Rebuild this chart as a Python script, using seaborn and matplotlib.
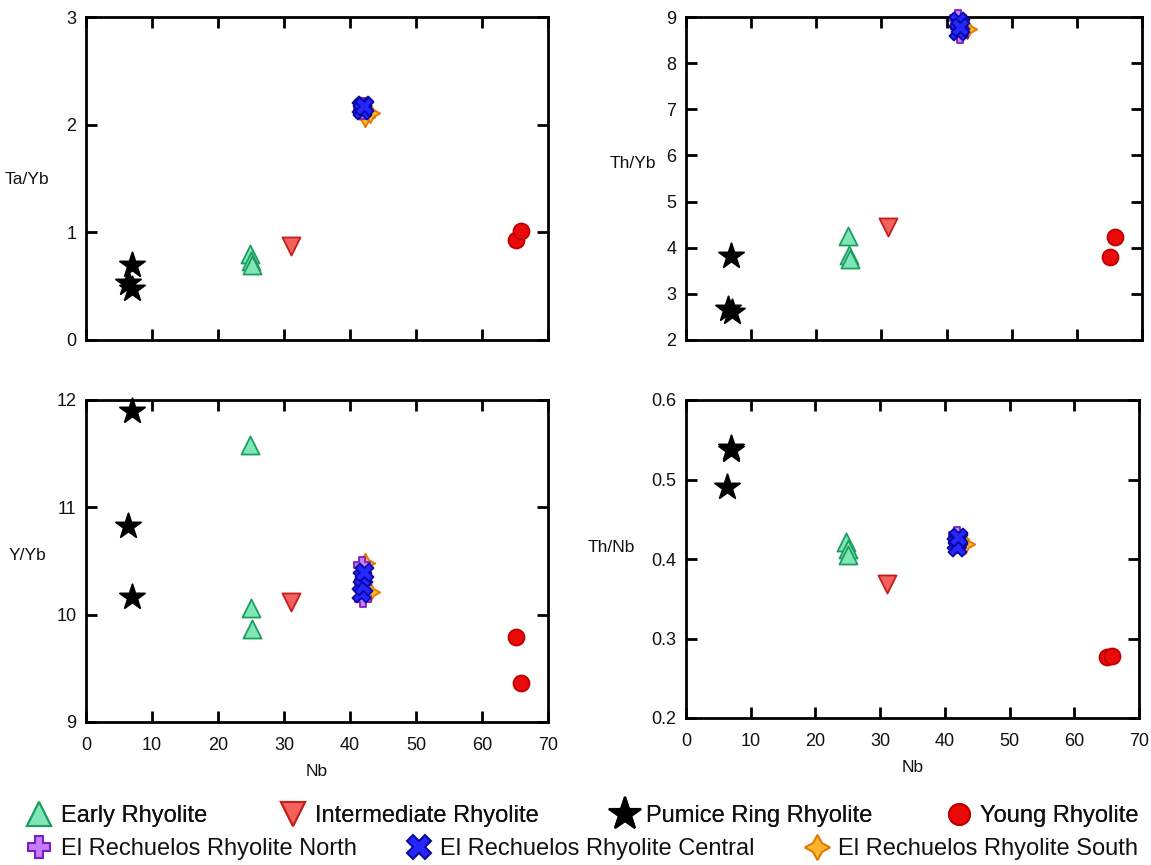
import matplotlib
matplotlib.use("Agg")
import matplotlib.pyplot as plt
from matplotlib.lines import Line2D
from matplotlib.ticker import FixedLocator, NullFormatter
import seaborn as sns
import pandas as pd

sns.set_theme(style="white")
plt.rcParams["font.family"] = ["Liberation Sans", "DejaVu Sans"]

# Rhyolite units
units = ["Early Rhyolite", "Intermediate Rhyolite", "Pumice Ring Rhyolite",
         "Young Rhyolite", "El Rechuelos Rhyolite North",
         "El Rechuelos Rhyolite Central", "El Rechuelos Rhyolite South"]

# Nb (ppm) per sample, one list per unit
nb_early = [24.8, 25.0, 25.1]
nb_inter = [31.0]
nb_pumice = [6.4, 6.9, 7.0]
nb_young = [65.1, 65.9]
nb_north = [41.8, 42.0, 41.9]
nb_central = [41.7, 42.0, 41.8, 42.1]
nb_south = [42.2, 43.1]

# Ta/Yb
tayb_early = [0.80, 0.73, 0.70]
tayb_inter = [0.87]
tayb_pumice = [0.53, 0.70, 0.47]
tayb_young = [0.93, 1.01]
tayb_north = [2.15, 2.17, 2.13]
tayb_central = [2.16, 2.18, 2.14, 2.17]
tayb_south = [2.07, 2.11]

# Th/Yb
thyb_early = [4.25, 3.84, 3.75]
thyb_inter = [4.45]
thyb_pumice = [2.68, 3.82, 2.60]
thyb_young = [3.80, 4.24]
thyb_north = [8.98, 8.62, 8.80]
thyb_central = [8.70, 8.85, 8.92, 8.78]
thyb_south = [8.82, 8.74]

# Y/Yb
yyb_early = [11.58, 10.06, 9.87]
yyb_inter = [10.12]
yyb_pumice = [10.83, 11.90, 10.16]
yyb_young = [9.79, 9.36]
yyb_north = [10.46, 10.15, 10.30]
yyb_central = [10.20, 10.27, 10.35, 10.40]
yyb_south = [10.48, 10.21]

# Th/Nb
thnb_early = [0.421, 0.412, 0.405]
thnb_inter = [0.369]
thnb_pumice = [0.491, 0.537, 0.540]
thnb_young = [0.277, 0.278]
thnb_north = [0.430, 0.418, 0.424]
thnb_central = [0.420, 0.425, 0.415, 0.428]
thnb_south = [0.425, 0.419]

nb_all = [nb_early, nb_inter, nb_pumice, nb_young, nb_north, nb_central, nb_south]
ratios = {
    "Ta/Yb": [tayb_early, tayb_inter, tayb_pumice, tayb_young, tayb_north, tayb_central, tayb_south],
    "Th/Yb": [thyb_early, thyb_inter, thyb_pumice, thyb_young, thyb_north, thyb_central, thyb_south],
    "Y/Yb": [yyb_early, yyb_inter, yyb_pumice, yyb_young, yyb_north, yyb_central, yyb_south],
    "Th/Nb": [thnb_early, thnb_inter, thnb_pumice, thnb_young, thnb_north, thnb_central, thnb_south],
}

rows = []
for i, unit in enumerate(units):
    for k, nb in enumerate(nb_all[i]):
        row = {"unit": unit, "Nb": nb}
        for key, vals in ratios.items():
            row[key] = vals[i][k]
        rows.append(row)
df = pd.DataFrame(rows)

# marker styling per unit: (marker, size in points, face, edge)
style = {
    "Early Rhyolite": ("^", 13, "#7fe6b8", "#1c9f5e"),
    "Intermediate Rhyolite": ("v", 13, "#f4605c", "#c21f1f"),
    "Pumice Ring Rhyolite": ("*", 19, "#000000", "#000000"),
    "Young Rhyolite": ("o", 11.5, "#ea0a0a", "#c00000"),
    "El Rechuelos Rhyolite North": ("P", 12, "#c67cff", "#7b1fc2"),
    "El Rechuelos Rhyolite Central": ("X", 13, "#2626ff", "#0a0aa0"),
    "El Rechuelos Rhyolite South": ((4, 1, 0), 14, "#ffb42e", "#e07a00"),
}
draw_order = ["El Rechuelos Rhyolite South", "El Rechuelos Rhyolite North",
              "El Rechuelos Rhyolite Central", "Early Rhyolite",
              "Intermediate Rhyolite", "Pumice Ring Rhyolite", "Young Rhyolite"]

W, H = 1151, 865
fig = plt.figure(figsize=(W / 100, H / 100), dpi=100)


def box(l, r, t, b):
    return [l / W, 1 - b / H, (r - l) / W, (b - t) / H]


panels = [
    ("Ta/Yb", box(86, 548, 17, 340), (0, 3), [0, 1, 2, 3], "{:.0f}", False, (27, 180)),
    ("Th/Yb", box(686, 1142, 17, 340), (2, 9), list(range(2, 10)), "{:.0f}", False, (633, 163)),
    ("Y/Yb", box(86, 548, 400, 722), (9, 12), [9, 10, 11, 12], "{:.0f}", True, (27, 555)),
    ("Th/Nb", box(686, 1139, 400, 718), (0.2, 0.6), [0.2, 0.3, 0.4, 0.5, 0.6], "{:.1f}", True, (611, 548)),
]

for key, rect, ylim, yticks, fmt, xlabels, lab in panels:
    ax = fig.add_axes(rect)
    for unit in draw_order:
        m, ms, fc, ec = style[unit]
        sub = df[df["unit"] == unit]
        sns.scatterplot(data=sub, x="Nb", y=key, ax=ax, marker=m, s=ms ** 2,
                        color=fc, edgecolor=ec, linewidth=1.3, legend=False,
                        zorder=3, clip_on=False)
    ax.set_xlim(0, 70)
    ax.set_ylim(*ylim)
    ax.set_xticks(range(0, 71, 10))
    ax.set_yticks(yticks)
    ax.set_yticklabels([fmt.format(v) for v in yticks])
    ax.xaxis.set_minor_locator(FixedLocator([50]))
    ax.xaxis.set_minor_formatter(NullFormatter())
    ax.tick_params(axis="both", which="major", direction="in", length=8, width=2,
                   color="black", top=True, right=True, bottom=True, left=True,
                   labelsize=13, labelcolor="#111111", pad=7)
    ax.tick_params(axis="x", which="major", pad=11)
    ax.tick_params(axis="x", which="minor", direction="in", length=15, width=2,
                   color="black", top=True, bottom=True)
    if xlabels:
        ax.set_xlabel("Nb", fontsize=12.5, labelpad=7, color="#111111")
    else:
        ax.set_xticklabels([])
        ax.set_xlabel("")
    ax.set_ylabel("")
    fig.text(lab[0] / W, 1 - lab[1] / H, key, fontsize=12.5, ha="center",
             va="center", color="#111111")
    for sp in ax.spines.values():
        sp.set_visible(True)
        sp.set_color("black")
        sp.set_linewidth(2)
    ax.set_facecolor("white")


def handle(unit, scale=1.3):
    m, ms, fc, ec = style[unit]
    return Line2D([], [], linestyle="none", marker=m, markersize=ms * scale,
                  markerfacecolor=fc, markeredgecolor=ec, markeredgewidth=1.5)


legend_font = {"family": ["Liberation Sans", "DejaVu Sans"], "size": 17}
row1 = units[:4]
row2 = units[4:]
leg1 = fig.legend([handle(u) for u in row1], row1, loc="center",
                  bbox_to_anchor=(0.022, 1 - 816 / H, 0.967, 0.0), mode="expand",
                  ncol=4, frameon=False, prop=legend_font, handletextpad=0.3,
                  borderpad=0, borderaxespad=0, handlelength=1.2,
                  labelcolor="#111111")
fig.add_artist(leg1)
leg2 = fig.legend([handle(u) for u in row2], row2, loc="center",
                  bbox_to_anchor=(0.022, 1 - 849 / H, 0.967, 0.0), mode="expand",
                  ncol=3, frameon=False, prop=legend_font, handletextpad=0.3,
                  borderpad=0, borderaxespad=0, handlelength=1.2,
                  labelcolor="#111111")

fig.savefig("out.png", dpi=100, facecolor="white")
